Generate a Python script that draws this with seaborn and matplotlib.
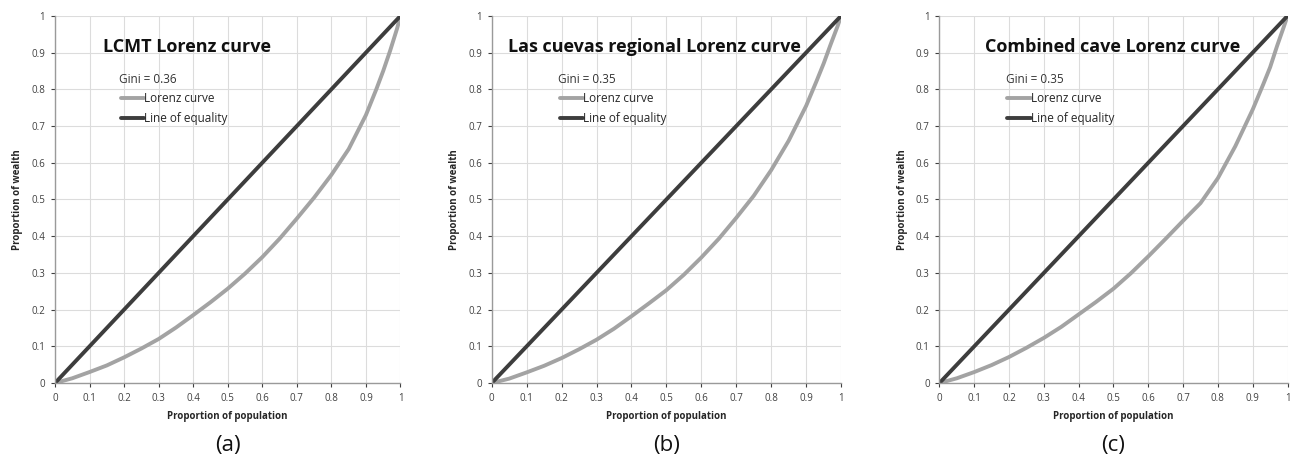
import numpy as np
import pandas as pd
import matplotlib
matplotlib.use("Agg")
import matplotlib.pyplot as plt
import seaborn as sns
from matplotlib.ticker import FuncFormatter

# DATA
population = [0, 0.05, 0.1, 0.15, 0.2, 0.25, 0.3, 0.35, 0.4, 0.45, 0.5,
              0.55, 0.6, 0.65, 0.7, 0.75, 0.8, 0.85, 0.9, 0.93, 0.95, 0.97, 0.99, 1.0]
lorenz_lcmt = [0, 0.013, 0.03, 0.048, 0.07, 0.094, 0.12, 0.151, 0.185, 0.22, 0.257,
               0.298, 0.343, 0.393, 0.448, 0.505, 0.567, 0.637, 0.73, 0.80, 0.85,
               0.905, 0.965, 1.0]
lorenz_cuevas = [0, 0.012, 0.029, 0.047, 0.068, 0.092, 0.118, 0.148, 0.182, 0.217, 0.253,
                 0.295, 0.342, 0.393, 0.45, 0.51, 0.58, 0.66, 0.755, 0.823, 0.87,
                 0.922, 0.972, 1.0]
lorenz_combined = [0, 0.013, 0.03, 0.049, 0.071, 0.096, 0.123, 0.153, 0.187, 0.221, 0.257,
                   0.299, 0.345, 0.393, 0.442, 0.49, 0.558, 0.645, 0.745, 0.813, 0.86,
                   0.918, 0.972, 1.0]
equality_x = [0, 1]
equality_y = [0, 1]

titles = ["LCMT Lorenz curve", "Las cuevas regional Lorenz curve", "Combined cave Lorenz curve"]
ginis = ["Gini = 0.36", "Gini = 0.35", "Gini = 0.35"]
panel_labels = ["(a)", "(b)", "(c)"]
series = [lorenz_lcmt, lorenz_cuevas, lorenz_combined]

# CONFIG
sns.set_theme(style="whitegrid")
plt.rcParams["font.family"] = ["Open Sans", "DejaVu Sans"]

fig = plt.figure(figsize=(12.94, 4.66), dpi=100)
positions = [
    [0.0425, 0.178, 0.267, 0.788],
    [0.380, 0.178, 0.270, 0.788],
    [0.726, 0.178, 0.269, 0.788],
]
title_x = [0.14, 0.046, 0.13]
gini_x = [0.185, 0.19, 0.19]

fmt = FuncFormatter(lambda v, p: "%g" % round(v, 1))

for i in range(3):
    ax = fig.add_axes(positions[i])
    df = pd.DataFrame({"population": population, "wealth": series[i]})
    sns.lineplot(data=df, x="population", y="wealth", ax=ax, color="#a3a3a3",
                 linewidth=2.8, label="Lorenz curve")
    sns.lineplot(x=equality_x, y=equality_y, ax=ax, color="#3d3d3d",
                 linewidth=2.8, label="Line of equality")
    ax.set_xlim(0, 1)
    ax.set_ylim(0, 1)
    ax.set_xticks(np.arange(0, 1.01, 0.1))
    ax.set_yticks(np.arange(0, 1.01, 0.1))
    ax.xaxis.set_major_formatter(fmt)
    ax.yaxis.set_major_formatter(fmt)
    ax.tick_params(labelsize=7, colors="#404040", length=3, width=0.8, pad=4)
    ax.tick_params(axis="x", direction="out", bottom=True)
    ax.tick_params(axis="y", direction="out", left=True)
    ax.grid(True, color="#dcdcdc", linewidth=0.8)
    for s in ["top", "right"]:
        ax.spines[s].set_visible(False)
    for s in ["left", "bottom"]:
        ax.spines[s].set_color("#9a9a9a")
        ax.spines[s].set_linewidth(1)
    ax.set_xlabel("Proportion of population", fontsize=7, fontweight="bold", labelpad=5)
    ax.set_ylabel("Proportion of wealth", fontsize=7, fontweight="bold", labelpad=6)
    ax.text(title_x[i], 0.915, titles[i], transform=ax.transAxes, fontsize=13,
            fontweight="bold", color="#111111", va="center", ha="left")
    ax.text(gini_x[i], 0.826, ginis[i], transform=ax.transAxes, fontsize=8.5,
            color="#333333", va="center", ha="left")
    ax.legend(loc="upper left", bbox_to_anchor=(gini_x[i] + 0.005, 0.792), frameon=False,
              fontsize=8.5, handlelength=2.0, handletextpad=0.0, labelspacing=0.55,
              borderaxespad=0, borderpad=0)
    ax.text(0.5, -0.17, panel_labels[i], transform=ax.transAxes, fontsize=16,
            ha="center", va="center", color="#111111")

fig.savefig("out.png", dpi=100)
